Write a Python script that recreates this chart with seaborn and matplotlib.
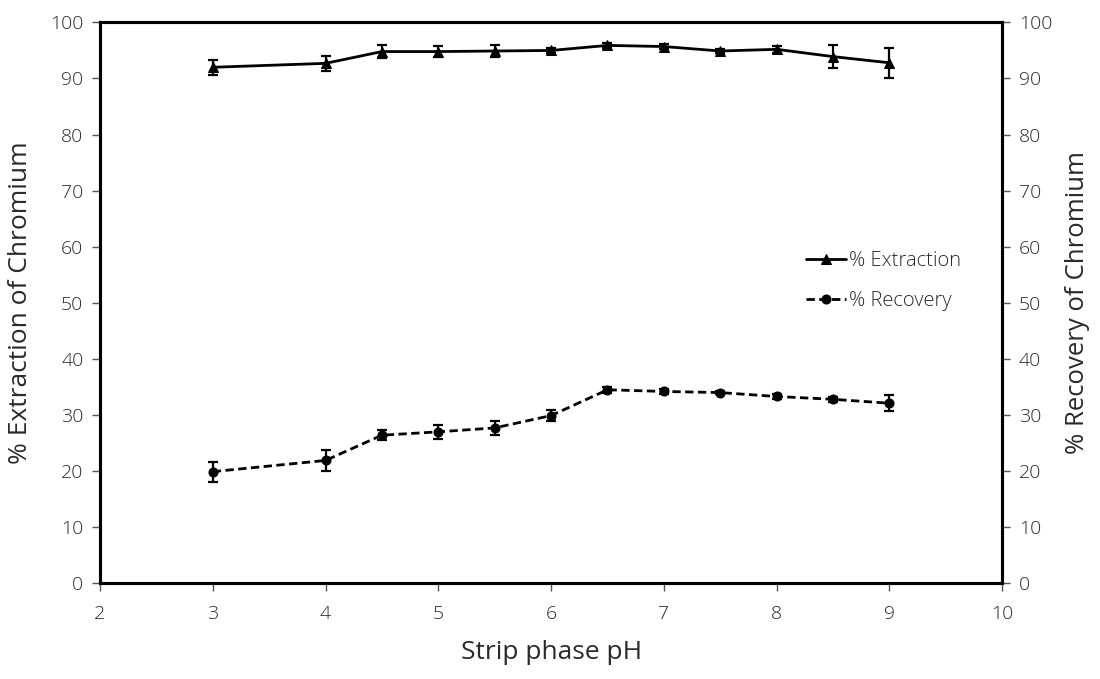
import numpy as np
import pandas as pd
import matplotlib
matplotlib.use("Agg")
import matplotlib.pyplot as plt
import seaborn as sns

# Strip phase pH and measured percentages
ph = [3, 4, 4.5, 5, 5.5, 6, 6.5, 7, 7.5, 8, 8.5, 9]
extraction = [92.0, 92.7, 94.8, 94.8, 94.9, 95.0, 95.9, 95.7, 94.9, 95.2, 93.9, 92.8]
extraction_err = [1.3, 1.3, 1.2, 1.0, 1.0, 0.4, 0.4, 0.4, 0.3, 0.6, 2.0, 2.7]
recovery = [19.9, 21.9, 26.4, 27.0, 27.7, 29.9, 34.5, 34.2, 34.0, 33.3, 32.8, 32.1]
recovery_err = [1.8, 1.8, 0.9, 1.2, 1.3, 1.0, 0.5, 0.4, 0.3, 0.4, 0.4, 1.4]

x_ticks = [2, 3, 4, 5, 6, 7, 8, 9, 10]
y_ticks = [0, 10, 20, 30, 40, 50, 60, 70, 80, 90, 100]

sns.set_theme(style="white")
plt.rcParams["font.family"] = ["Open Sans", "DejaVu Sans"]
plt.rcParams["font.weight"] = "light"
text_color = "#2a2a2a"

df = pd.DataFrame({"pH": ph, "Extraction": extraction, "Recovery": recovery})

fig = plt.figure(figsize=(11, 6.79), dpi=100)
ax = fig.add_axes([0.0909, 0.141, 0.8202, 0.826])

sns.lineplot(data=df, x="pH", y="Extraction", ax=ax, color="black", lw=2,
             marker="^", markersize=7, markeredgecolor="black",
             label="% Extraction", zorder=3)
sns.lineplot(data=df, x="pH", y="Recovery", ax=ax, color="black", lw=2,
             linestyle=(0, (3, 1.6)), marker="o", markersize=6.5,
             markeredgecolor="black", label="% Recovery", zorder=3)
ax.errorbar(ph, extraction, yerr=extraction_err, fmt="none", ecolor="black",
            elinewidth=1.6, capsize=3.5, capthick=1.6, zorder=2)
ax.errorbar(ph, recovery, yerr=recovery_err, fmt="none", ecolor="black",
            elinewidth=1.6, capsize=3.5, capthick=1.6, zorder=2)

ax.set_xlim(2, 10)
ax.set_ylim(0, 100)
ax.set_xticks(x_ticks)
ax.set_yticks(y_ticks)
ax.set_xlabel("Strip phase pH", fontsize=19, color=text_color, labelpad=12)
ax.set_ylabel("% Extraction of Chromium", fontsize=19, color=text_color, labelpad=12)

ax2 = ax.twinx()
ax2.set_ylim(0, 100)
ax2.set_yticks(y_ticks)
ax2.set_ylabel("% Recovery of Chromium", fontsize=18.5, color=text_color, labelpad=9)

for a in (ax, ax2):
    for s in a.spines.values():
        s.set_visible(True)
        s.set_color("black")
        s.set_linewidth(2.2)
    a.tick_params(axis="both", which="major", direction="out", length=6,
                  width=1, color="#555555", labelsize=14, labelcolor=text_color,
                  pad=6)
ax.tick_params(axis="x", bottom=True, pad=10)
ax.tick_params(axis="y", left=True)
ax2.tick_params(axis="y", right=True)

leg = ax.legend(loc="upper left", bbox_to_anchor=(0.762, 0.625), frameon=False,
                fontsize=14.5, handlelength=2.0, handletextpad=0.15,
                labelspacing=1.0, labelcolor=text_color)

fig.savefig("out.png", dpi=100)
